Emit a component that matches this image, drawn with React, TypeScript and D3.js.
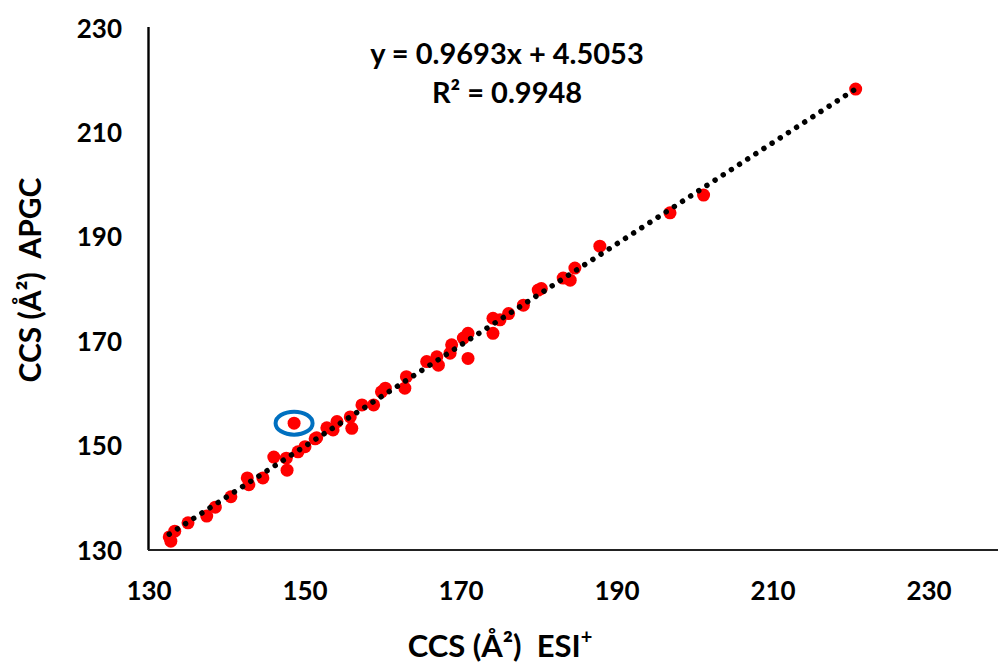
import React, { useEffect, useRef } from "react";
import * as d3 from "d3";

// CCS values (Å²): ESI+ (x) vs APGC (y)
const esiValues = [
  132.6, 132.8, 133.3, 135.0, 137.4, 138.5, 140.5, 142.6, 142.8, 144.6,
  146.0, 147.6, 147.7, 148.6, 149.1, 150.0, 151.3, 151.5, 152.8, 153.6,
  154.1, 155.8, 156.0, 157.3, 158.8, 159.8, 160.3, 163.0, 162.8, 165.6,
  166.9, 167.1, 168.6, 168.8, 170.9, 170.3, 170.9, 174.1, 174.1, 175.0,
  176.1, 178.0, 179.9, 180.3, 183.1, 184.0, 184.6, 187.8, 196.8, 201.1,
  220.6,
];
const apgcValues = [
  132.5, 131.7, 133.6, 135.2, 136.5, 138.2, 140.2, 143.8, 142.5, 143.8,
  147.8, 147.6, 145.3, 154.3, 148.8, 149.8, 151.3, 151.5, 153.4, 153.0,
  154.6, 155.5, 153.3, 157.8, 157.8, 160.3, 161.0, 163.2, 161.0, 166.1,
  167.0, 165.4, 167.7, 169.3, 166.7, 170.6, 171.5, 171.5, 174.4, 174.1,
  175.3, 176.9, 179.8, 180.1, 182.1, 181.7, 184.0, 188.2, 194.6, 198.0,
  218.3,
];
const xTicks = [130, 150, 170, 190, 210, 230];
const yTicks = [130, 150, 170, 190, 210, 230];
const slope = 0.9693;
const intercept = 4.5053;
const highlighted = [148.6, 154.3];

const App = () => {
  const svgRef = useRef<SVGSVGElement>(null);

  useEffect(() => {
    const svg = d3.select(svgRef.current);
    svg.selectAll("*").remove();

    const font = "Lato, 'Open Sans', sans-serif";
    const x = d3.scaleLinear().domain([130, 230]).range([149, 929]);
    const y = d3.scaleLinear().domain([130, 230]).range([550, 28]);

    // axis lines
    svg.append("line")
      .attr("x1", 148.5).attr("x2", 148.5)
      .attr("y1", 27).attr("y2", 550)
      .attr("stroke", "#000").attr("stroke-width", 2.4);
    svg.append("line")
      .attr("x1", 148).attr("x2", 998)
      .attr("y1", 550).attr("y2", 550)
      .attr("stroke", "#222").attr("stroke-width", 2);

    // tick labels
    svg.selectAll(".xt").data(xTicks).enter().append("text")
      .attr("x", (d) => x(d)).attr("y", 600)
      .attr("text-anchor", "middle")
      .attr("font-family", font).attr("font-weight", 700).attr("font-size", 26)
      .text((d) => d);
    svg.selectAll(".yt").data(yTicks).enter().append("text")
      .attr("x", 122).attr("y", (d) => y(d) + 9.5)
      .attr("text-anchor", "end")
      .attr("font-family", font).attr("font-weight", 700).attr("font-size", 26)
      .text((d) => d);

    const points = esiValues.map((v, i) => ({ x: v, y: apgcValues[i] }));

    svg.selectAll(".pt").data(points).enter().append("circle")
      .attr("cx", (d) => x(d.x)).attr("cy", (d) => y(d.y))
      .attr("r", 6.5).attr("fill", "#FF0000");

    // trendline
    const [xmin, xmax] = d3.extent(esiValues) as [number, number];
    const line = d3.line<number>().x((d) => x(d)).y((d) => y(slope * d + intercept));
    svg.append("path")
      .attr("d", line([xmin, xmax]))
      .attr("fill", "none").attr("stroke", "#000")
      .attr("stroke-width", 5.5).attr("stroke-linecap", "round")
      .attr("stroke-dasharray", "0.01 9.7");

    // highlight ellipse
    svg.append("ellipse")
      .attr("cx", x(highlighted[0])).attr("cy", y(highlighted[1]))
      .attr("rx", 18.5).attr("ry", 11.5)
      .attr("fill", "none").attr("stroke", "#0070C0").attr("stroke-width", 4);

    // equation
    svg.append("text")
      .attr("x", 507).attr("y", 64).attr("text-anchor", "middle")
      .attr("font-family", font).attr("font-weight", 700).attr("font-size", 29)
      .text(`y = ${slope}x + ${intercept}`);
    svg.append("text")
      .attr("x", 507).attr("y", 103).attr("text-anchor", "middle")
      .attr("font-family", font).attr("font-weight", 700).attr("font-size", 29)
      .text("R² = 0.9948");

    // axis titles
    const xt = svg.append("text")
      .attr("x", 500).attr("y", 657).attr("text-anchor", "middle")
      .attr("font-family", font).attr("font-weight", 700).attr("font-size", 31)
      .style("white-space", "pre");
    xt.append("tspan").text("CCS (Å²)  ESI");
    xt.append("tspan").attr("font-size", 20).attr("dy", -13).text("+");

    svg.append("text")
      .attr("transform", "translate(41,280) rotate(-90)")
      .attr("text-anchor", "middle")
      .attr("font-family", font).attr("font-weight", 700).attr("font-size", 30)
      .style("white-space", "pre")
      .text("CCS (Å²)  APGC");
  }, []);

  return (
    <svg
      ref={svgRef}
      width={998}
      height={664}
      style={{ position: "absolute", left: 0, top: 0, background: "#fff" }}
    ></svg>
  );
};

export default App;
